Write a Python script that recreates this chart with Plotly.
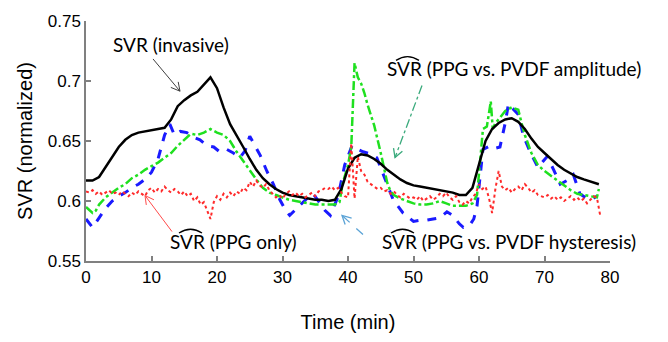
import math
import numpy as np
import plotly.graph_objects as go

# ---------------- data ----------------
black_t = list(range(0, 79)) + [78.3]
black_v = [0.617, 0.617, 0.620, 0.628, 0.637, 0.645, 0.651, 0.655, 0.657, 0.658,
           0.659, 0.660, 0.661, 0.668, 0.679, 0.684, 0.688, 0.691, 0.697, 0.703,
           0.694, 0.678, 0.664, 0.655, 0.645, 0.635, 0.626, 0.619, 0.614, 0.610,
           0.607, 0.605, 0.604, 0.603, 0.602, 0.601, 0.601, 0.600, 0.601, 0.610,
           0.627, 0.636, 0.639, 0.638, 0.635, 0.631, 0.626, 0.622, 0.618, 0.615,
           0.613, 0.612, 0.611, 0.610, 0.609, 0.608, 0.607, 0.605, 0.605, 0.611,
           0.630, 0.650, 0.660, 0.665, 0.668, 0.669, 0.666, 0.660, 0.652, 0.645,
           0.640, 0.635, 0.630, 0.626, 0.623, 0.620, 0.618, 0.616, 0.614, 0.614]

green_t = [0, 1, 1.5, 2, 3, 4, 5, 6, 7, 8, 9, 10, 11, 12, 13, 14, 15, 16, 17, 18,
           19, 20, 21, 22, 23, 24, 25, 26, 27, 28, 29, 30, 31, 32, 33, 34, 35, 36, 37, 38,
           38.7, 39.2, 40, 40.5, 41, 41.5, 42, 42.5, 43, 44, 45, 46, 46.5, 47, 48, 49, 50,
           51, 52, 53, 54, 55, 56, 57, 58, 59, 59.7, 60.2, 60.6, 61.2, 61.8, 62.1, 62.5,
           63, 64, 65, 66, 66.5, 67, 68, 69, 70, 71, 72, 73, 74, 75, 76, 77, 78, 78.3]
green_v = [0.595, 0.590, 0.592, 0.597, 0.603, 0.607, 0.611, 0.614, 0.619, 0.622,
           0.626, 0.629, 0.632, 0.636, 0.640, 0.646, 0.651, 0.656, 0.655, 0.657,
           0.660, 0.657, 0.655, 0.650, 0.641, 0.633, 0.625, 0.618, 0.611, 0.607,
           0.605, 0.603, 0.601, 0.600, 0.599, 0.598, 0.597, 0.597, 0.597, 0.597,
           0.599, 0.615, 0.630, 0.645, 0.715, 0.703, 0.698, 0.690, 0.680, 0.663,
           0.640, 0.615, 0.608, 0.605, 0.602, 0.600, 0.598, 0.597, 0.597, 0.598,
           0.600, 0.598, 0.596, 0.596, 0.596, 0.598, 0.605, 0.635, 0.660, 0.662,
           0.683, 0.660, 0.665, 0.668, 0.675, 0.678, 0.676, 0.665, 0.655, 0.640,
           0.630, 0.625, 0.621, 0.617, 0.613, 0.609, 0.606, 0.605, 0.604, 0.603, 0.610]

blue_t = [0, 1, 2, 3, 4, 5, 6, 7, 8, 9, 10, 11, 12, 12.8, 13.5, 14.4, 15.4, 16.5, 17.4,
          18.5, 19.5, 20.4, 21.5, 22.5, 23.5, 24.3, 25, 25.8, 26.6, 27.6, 28.6, 29.6,
          30.5, 31.1, 32, 32.7, 33.7, 34.7, 35.5, 36.5, 37.3, 38, 38.5, 39.5, 40.6, 41.5,
          42.3, 43.5, 44.4, 45.4, 46.4, 46.9, 48.4, 50, 51, 52, 53, 54, 55.1, 56, 57,
          57.6, 58.6, 59.2, 59.7, 60.2, 60.6, 61.7, 62.5, 63.2, 64, 64.5, 65.2, 66, 66.8,
          67.8, 69, 70.4, 71.4, 72.4, 73.4, 74.4, 75.4, 76.5, 77, 78]
blue_v = [0.585, 0.578, 0.586, 0.594, 0.600, 0.604, 0.607, 0.611, 0.614, 0.618,
          0.624, 0.635, 0.655, 0.664, 0.655, 0.658, 0.657, 0.653, 0.651, 0.646,
          0.645, 0.641, 0.643, 0.640, 0.636, 0.642, 0.654, 0.646, 0.638, 0.625,
          0.614, 0.601, 0.592, 0.588, 0.593, 0.597, 0.602, 0.606, 0.600, 0.592,
          0.588, 0.597, 0.604, 0.630, 0.646, 0.643, 0.641, 0.639, 0.636, 0.622,
          0.609, 0.601, 0.590, 0.583, 0.584, 0.584, 0.585, 0.586, 0.591, 0.588,
          0.581, 0.578, 0.580, 0.585, 0.596, 0.620, 0.643, 0.646, 0.644, 0.645,
          0.665, 0.681, 0.677, 0.672, 0.654, 0.641, 0.628, 0.637, 0.626, 0.614,
          0.617, 0.622, 0.606, 0.602, 0.601, 0.604]

red_t = list(np.arange(0, 79, 0.5))
red_v = [0.608, 0.607, 0.609, 0.606, 0.608, 0.605, 0.607, 0.609, 0.606, 0.607,
         0.605, 0.608, 0.606, 0.604, 0.607, 0.605, 0.608, 0.606, 0.604, 0.609,
         0.611, 0.607, 0.610, 0.608, 0.612, 0.609, 0.607, 0.610, 0.608, 0.605,
         0.608, 0.604, 0.606, 0.600, 0.603, 0.597, 0.599, 0.592, 0.585, 0.599,
         0.604, 0.601, 0.606, 0.603, 0.607, 0.604, 0.608, 0.606, 0.611, 0.609,
         0.616, 0.612, 0.617, 0.613, 0.611, 0.614, 0.609, 0.606, 0.603, 0.605,
         0.602, 0.606, 0.608, 0.605, 0.607, 0.604, 0.606, 0.603, 0.605, 0.607,
         0.604, 0.608, 0.609, 0.611, 0.610, 0.612, 0.609, 0.611, 0.607, 0.604,
         0.603, 0.648, 0.602, 0.637, 0.625, 0.622, 0.616, 0.614, 0.612, 0.610,
         0.611, 0.608, 0.609, 0.606, 0.608, 0.605, 0.603, 0.606, 0.604, 0.602,
         0.603, 0.601, 0.604, 0.600, 0.602, 0.604, 0.601, 0.603, 0.606, 0.604,
         0.607, 0.603, 0.601, 0.604, 0.599, 0.597, 0.600, 0.598, 0.603, 0.606,
         0.614, 0.610, 0.612, 0.603, 0.590, 0.610, 0.625, 0.612, 0.609, 0.611,
         0.607, 0.610, 0.612, 0.609, 0.614, 0.611, 0.607, 0.609, 0.605, 0.604,
         0.603, 0.605, 0.602, 0.604, 0.601, 0.603, 0.600, 0.602, 0.604, 0.601,
         0.603, 0.600, 0.602, 0.598, 0.601, 0.604, 0.603, 0.588]

x_ticks = [0, 10, 20, 30, 40, 50, 60, 70, 80]
y_ticks = [0.55, 0.6, 0.65, 0.7, 0.75]
y_ticktext = ["0.55", "0.6", "0.65", "0.7", "0.75"]

label_invasive = "SVR (invasive)"
label_amp = "SVR (PPG vs. PVDF amplitude)"
label_only = "SVR (PPG only)"
label_hyst = "SVR (PPG vs. PVDF hysteresis)"

# ---------------- figure ----------------
W, H = 668, 342
ML, MR, MT, MB = 86, 58, 15, 74
XR = [0, 80]
YR = [0.55, 0.75]
SX = (W - ML - MR) / (XR[1] - XR[0])
SY = (H - MT - MB) / (YR[1] - YR[0])


def px2x(px):
    return XR[0] + (px - ML) / SX


def px2y(py):
    return YR[1] - (py - MT) / SY


fig = go.Figure()
fig.add_trace(go.Scatter(x=blue_t, y=blue_v, mode="lines",
                         line=dict(color="#1a1aff", width=3, dash="dash")))
fig.add_trace(go.Scatter(x=green_t, y=green_v, mode="lines",
                         line=dict(color="#1fe01f", width=2.5, dash="dashdot")))
fig.add_trace(go.Scatter(x=black_t, y=black_v, mode="lines",
                         line=dict(color="#000000", width=2.5)))
fig.add_trace(go.Scatter(x=red_t, y=red_v, mode="lines",
                         line=dict(color="#ff2a2a", width=2, dash="dot")))


def arrow(p0, p1, color, dash, width, head=10, ang=28):
    (x0, y0), (x1, y1) = p0, p1
    dx, dy = x1 - x0, y1 - y0
    L = math.hypot(dx, dy)
    ux, uy = dx / L, dy / L
    pts = []
    for s in (1, -1):
        a = math.radians(ang) * s
        bx = -ux * math.cos(a) + uy * math.sin(a)
        by = -uy * math.cos(a) - ux * math.sin(a)
        pts.append((x1 + bx * head, y1 + by * head))
    return [
        dict(type="line", xref="x", yref="y", x0=px2x(x0), y0=px2y(y0),
             x1=px2x(x1), y1=px2y(y1), line=dict(color=color, width=width, dash=dash)),
        dict(type="path", xref="x", yref="y",
             path=(f"M {px2x(pts[0][0])},{px2y(pts[0][1])} L {px2x(x1)},{px2y(y1)} "
                   f"L {px2x(pts[1][0])},{px2y(pts[1][1])}"),
             line=dict(color=color, width=width)),
    ]


def hat(xl, xr, ybase, rise=4):
    xm = (xl + xr) / 2
    return dict(type="path", xref="x", yref="y",
                path=(f"M {px2x(xl)},{px2y(ybase)} Q {px2x(xm)},{px2y(ybase - 2 * rise)} "
                      f"{px2x(xr)},{px2y(ybase)}"),
                line=dict(color="black", width=1.3))


shapes = []
shapes += arrow((153, 55), (180, 89), "#404040", "solid", 1)
shapes += arrow((422, 83), (395, 159), "#3aaa7c", "dashdot", 1.3)
shapes += arrow((172, 237), (145, 199), "#ff4a4a", "solid", 1)
shapes += arrow((363, 240), (342, 220), "#5ba3d6", "dash", 1.3)

ann_font = dict(family="Lato, Carlito, sans-serif", size=19, color="black")
# (text, left px, cap-centre px)
labels = [
    (label_amp, 387, 65),
    (label_only, 170, 247),
    (label_hyst, 382, 247),
]
annotations = [dict(x=px2x(171), y=px2y(40), text=label_invasive, xanchor="center")]
for txt, lx, cy in labels:
    annotations.append(dict(x=px2x(lx - 2), y=px2y(cy), text=txt, xanchor="left"))
    shapes.append(hat(lx + 9, lx + 32, cy - 8.5))
for a in annotations:
    a.update(xref="x", yref="y", showarrow=False, font=ann_font, yanchor="middle")
for s in shapes:
    s["layer"] = "above"

axis_common = dict(showline=True, linecolor="#808080", linewidth=1.5,
                   ticks="inside", ticklen=5, tickcolor="#808080", tickwidth=1.5,
                   showgrid=False, zeroline=False,
                   tickfont=dict(family="Liberation Sans, Arial", size=17, color="black"))

fig.update_layout(
    width=W, height=H,
    margin=dict(l=ML, r=MR, t=MT, b=MB),
    paper_bgcolor="white", plot_bgcolor="white",
    showlegend=False,
    shapes=shapes,
    annotations=annotations,
    xaxis=dict(range=XR, tickvals=x_ticks, **axis_common,
               title=dict(text="Time (min)", standoff=29,
                          font=dict(family="Liberation Sans, Arial", size=20, color="black"))),
    yaxis=dict(range=YR, tickvals=y_ticks, ticktext=y_ticktext, **axis_common,
               title=dict(text="SVR (normalized)", standoff=10,
                          font=dict(family="Liberation Sans, Arial", size=20, color="black"))),
)

fig.write_html("out.html")
